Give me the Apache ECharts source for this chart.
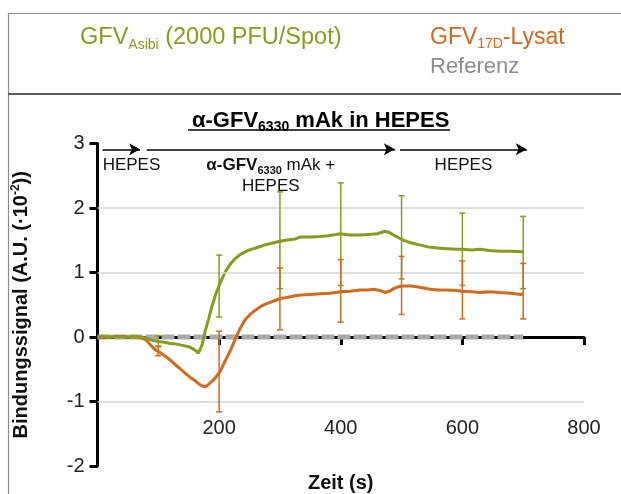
<!DOCTYPE html>
<html><head><meta charset="utf-8">
<script src="https://cdn.jsdelivr.net/npm/echarts@6/dist/echarts.min.js"></script>
<style>html,body{margin:0;padding:0;background:#fff}#c{width:621px;height:494px}</style>
</head><body><div id="c"></div>
<script>
// ---- data ----
const xTicks = [0, 200, 400, 600, 800];
const yTicks = [-2, -1, 0, 1, 2, 3];
const asibiT = [0,10,20,30,40,50,60,70,80,90,100,110,120,130,140,150,160,166,172,177,183,188,194,200,210,219,227,235,243,250,260,276,293,309,325,334,350,366,380,399,415,432,445,460,473,480,487,495,503,512,520,533,547,560,575,590,599,615,629,645,662,680,698,700];
const asibiV = [0.00,0.01,0.00,0.01,0.00,0.00,0.01,0.00,-0.02,-0.05,-0.07,-0.08,-0.10,-0.11,-0.13,-0.15,-0.20,-0.25,-0.12,0.09,0.29,0.47,0.65,0.80,1.01,1.14,1.22,1.28,1.32,1.35,1.38,1.43,1.47,1.50,1.52,1.55,1.55,1.56,1.57,1.60,1.58,1.58,1.59,1.60,1.64,1.62,1.58,1.54,1.50,1.47,1.45,1.42,1.39,1.38,1.37,1.36,1.36,1.35,1.36,1.34,1.33,1.33,1.32,1.33];
const lysatT = [0,10,20,30,40,50,60,70,79,87,95,103,112,120,128,137,145,153,161,167,172,178,183,189,194,202,210,219,227,235,243,251,260,268,276,285,293,301,309,325,334,350,366,383,399,415,432,445,454,465,473,480,487,495,503,515,525,536,547,560,575,590,599,615,629,645,662,680,696,700];
const lysatV = [0.00,-0.01,0.00,0.00,0.01,0.00,0.00,-0.01,-0.04,-0.12,-0.20,-0.24,-0.30,-0.36,-0.43,-0.50,-0.57,-0.63,-0.68,-0.73,-0.76,-0.77,-0.73,-0.68,-0.63,-0.53,-0.37,-0.20,-0.02,0.14,0.27,0.35,0.42,0.47,0.51,0.54,0.57,0.60,0.61,0.64,0.65,0.66,0.67,0.68,0.70,0.71,0.73,0.73,0.74,0.72,0.69,0.71,0.75,0.78,0.79,0.79,0.78,0.76,0.74,0.73,0.73,0.72,0.71,0.70,0.69,0.70,0.69,0.68,0.66,0.67];
const refT = [0, 700];
const refV = [0, 0];
const errT = [100, 200, 300, 400, 500, 600, 700];
const asibiLow  = [-0.14, 0.31, 0.75, 0.80, 0.90, 0.80, 0.75];
const asibiHigh = [0.02, 1.27, 2.25, 2.39, 2.19, 1.92, 1.87];
const lysatLow  = [-0.29, -1.16, 0.11, 0.23, 0.35, 0.28, 0.28];
const lysatHigh = [-0.15, 0.09, 1.07, 1.20, 1.25, 1.18, 1.14];
const gridValues = [2, 1, -1];
const phaseStart = [8.5, 81, 497.5];
const phaseEnd = [70, 489, 706];
const phaseY = 2.91;

const GREEN = '#8a9a1c', ORANGE = '#d2691d', GRAY = '#a9a9a9';
const N_ASIBI = 'GFV Asibi (2000 PFU/Spot)';
const N_LYSAT = 'GFV 17D-Lysat';
const N_REF = 'Referenz';

const zip = (a, b) => a.map((v, i) => [v, b[i]]);
const errData = (lo, hi) => errT.map((t, i) => [t, lo[i], hi[i]]);

function errRender(color) {
  return function (params, api) {
    const lo = api.coord([api.value(0), api.value(1)]);
    const hi = api.coord([api.value(0), api.value(2)]);
    const w = 3;
    const st = { stroke: color, lineWidth: 1.5 };
    return { type: 'group', children: [
      { type: 'line', shape: { x1: lo[0], y1: lo[1], x2: hi[0], y2: hi[1] }, style: st },
      { type: 'line', shape: { x1: lo[0] - w, y1: lo[1], x2: lo[0] + w, y2: lo[1] }, style: st },
      { type: 'line', shape: { x1: hi[0] - w, y1: hi[1], x2: hi[0] + w, y2: hi[1] }, style: st }
    ]};
  };
}

const chart = echarts.init(document.getElementById('c'), null, { renderer: 'canvas' });
const FF = 'Liberation Sans, Arial, sans-serif';
const labelRich = {
  r: { fontSize: 17, fontFamily: FF, color: '#111', lineHeight: 21 },
  b: { fontSize: 17, fontFamily: FF, color: '#111', fontWeight: 'bold', lineHeight: 21 },
  bs: { fontSize: 11, fontFamily: FF, color: '#111', fontWeight: 'bold', lineHeight: 20, verticalAlign: 'bottom' }
};

chart.setOption({
  animation: false,
  textStyle: { fontFamily: FF },
  grid: { left: 97.5, right: 37, top: 143.5, bottom: 28, containLabel: false, outerBoundsMode: 'none' },
  title: {
    text: '{b|α-GFV}{s|6330}{b| mAk in HEPES}',
    left: 187, top: 103,
    textStyle: { rich: {
      b: { fontSize: 22, fontWeight: 'bold', fontFamily: FF, color: '#000', lineHeight: 26 },
      s: { fontSize: 14, fontWeight: 'bold', fontFamily: FF, color: '#000', lineHeight: 25, verticalAlign: 'bottom' }
    }}
  },
  legend: [
    { data: [{ name: N_ASIBI }], left: 70, top: 21, icon: 'none', itemWidth: 0, itemGap: 0,
      formatter: () => '{m|GFV}{s|Asibi}{m| (2000 PFU/Spot)}',
      textStyle: { rich: {
        m: { fontSize: 23.5, fontFamily: FF, color: GREEN, lineHeight: 28 },
        s: { fontSize: 14, fontFamily: FF, color: GREEN, lineHeight: 28, verticalAlign: 'bottom' }
      }}},
    { data: [{ name: N_LYSAT }, { name: N_REF }], orient: 'vertical', left: 420, top: 21, icon: 'none', itemWidth: 0, itemGap: 4,
      formatter: (n) => n === N_LYSAT ? '{o|GFV}{os|17D}{o|-Lysat}' : '{g|Referenz}',
      textStyle: { rich: {
        o: { fontSize: 23, fontFamily: FF, color: ORANGE, lineHeight: 28 },
        os: { fontSize: 14, fontFamily: FF, color: ORANGE, lineHeight: 28, verticalAlign: 'bottom' },
        g: { fontSize: 22, fontFamily: FF, color: '#8c8c8c', lineHeight: 28 }
      }}}
  ],
  graphic: [
    { type: 'rect', shape: { x: 8.5, y: 13.5, width: 640, height: 520 }, style: { fill: 'none', stroke: '#8c8c8c', lineWidth: 1.2 }, silent: true },
    { type: 'line', shape: { x1: 8, y1: 94, x2: 621, y2: 94 }, style: { stroke: '#5a5a5a', lineWidth: 2 }, silent: true },
    { type: 'line', shape: { x1: 188, y1: 130, x2: 450, y2: 130 }, style: { stroke: '#000', lineWidth: 1.5 }, silent: true }
  ],
  xAxis: {
    type: 'value', min: xTicks[0], max: xTicks[xTicks.length - 1], interval: 200,
    name: 'Zeit (s)', nameLocation: 'middle', nameGap: 7,
    nameTextStyle: { fontSize: 20, fontWeight: 'bold', color: '#111', fontFamily: FF },
    axisLine: { onZero: true, lineStyle: { color: '#000', width: 3 } },
    axisTick: { show: true, length: 8, lineStyle: { color: '#000', width: 3 } },
    axisLabel: { margin: -48, fontSize: 20, color: '#222', fontFamily: FF, showMinLabel: false },
    splitLine: { show: false }
  },
  yAxis: {
    type: 'value', min: yTicks[0], max: yTicks[yTicks.length - 1], interval: 1,
    name: '{n|Bindungssignal (A.U. (·10}{sup|-2}{n|))}', nameLocation: 'middle', nameGap: 64, nameRotate: 90,
    nameTextStyle: { rich: {
      n: { fontSize: 20, fontWeight: 'bold', color: '#111', fontFamily: FF, lineHeight: 24 },
      sup: { fontSize: 12, fontWeight: 'bold', color: '#111', fontFamily: FF, lineHeight: 24, verticalAlign: 'top' }
    }},
    axisLine: { show: true, lineStyle: { color: '#000', width: 3 } },
    axisTick: { show: true, length: 8, lineStyle: { color: '#000', width: 3 } },
    axisLabel: { margin: 13, fontSize: 20, color: '#222', fontFamily: FF },
    splitLine: { show: false }
  },
  series: [
    { name: N_REF, type: 'line', data: zip(refT, refV), showSymbol: false, z: 3,
      lineStyle: { color: GRAY, width: 5, type: [13, 3] }, itemStyle: { color: GRAY },
      markLine: { silent: true, symbol: 'none', label: { show: false },
        lineStyle: { color: '#d4d4d4', width: 1.5, type: 'solid' },
        data: gridValues.map(v => ({ yAxis: v })) } },
    { name: N_LYSAT, type: 'line', data: zip(lysatT, lysatV), showSymbol: false, z: 4,
      lineStyle: { color: ORANGE, width: 3 }, itemStyle: { color: ORANGE } },
    { name: N_ASIBI, type: 'line', data: zip(asibiT, asibiV), showSymbol: false, z: 4,
      lineStyle: { color: GREEN, width: 3 }, itemStyle: { color: GREEN } },
    { name: 'errA', type: 'custom', data: errData(asibiLow, asibiHigh), renderItem: errRender(GREEN), encode: { x: 0, y: [1, 2] }, z: 5 },
    { name: 'errL', type: 'custom', data: errData(lysatLow, lysatHigh), renderItem: errRender(ORANGE), encode: { x: 0, y: [1, 2] }, z: 5 },
    { name: 'phases', type: 'line', data: [], z: 6,
      markLine: { silent: true, symbol: ['none', 'arrow'], symbolSize: [9, 11],
        lineStyle: { color: '#000', width: 1.5, type: 'solid' },
        data: [
          [{ coord: [phaseStart[0], phaseY], label: { show: true, position: 'insideStartBottom', distance: [0, 6], formatter: '{r|HEPES}', rich: labelRich } }, { coord: [phaseEnd[0], phaseY] }],
          [{ coord: [phaseStart[1], phaseY], label: { show: true, position: 'insideMiddleBottom', distance: [0, 6], formatter: '{b|α-GFV}{bs|6330}{r| mAk +}\n{r|HEPES}', rich: labelRich } }, { coord: [phaseEnd[1], phaseY] }],
          [{ coord: [phaseStart[2], phaseY], label: { show: true, position: 'insideMiddleBottom', distance: [0, 6], formatter: '{r|HEPES}', rich: labelRich } }, { coord: [phaseEnd[2], phaseY] }]
        ] } }
  ]
});
</script>
</body></html>
